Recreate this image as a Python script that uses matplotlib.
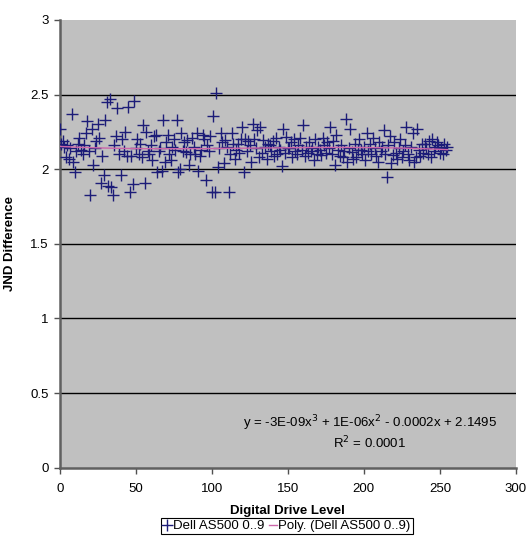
import numpy as np
import matplotlib
matplotlib.use("Agg")
import matplotlib.pyplot as plt
from matplotlib.lines import Line2D

plt.rcParams['font.family'] = ['Liberation Sans', 'DejaVu Sans']

# Data: JND difference per digital drive level
drive_levels = list(range(0, 256))
jnd_diff = [
    2.27, 2.17, 2.19, 2.15, 2.08, 2.16, 2.07, 2.14, 2.37, 2.05, 1.98, 2.12, 2.17, 2.21, 2.13, 2.10,
    2.16, 2.24, 2.32, 2.12, 1.83, 2.27, 2.03, 2.14, 2.19, 2.30, 2.21, 1.91, 2.09, 1.96, 2.33, 2.45,
    1.89, 2.47, 1.88, 1.83, 2.16, 2.22, 2.41, 2.10, 1.96, 2.20, 2.12, 2.25, 2.09, 2.42, 1.85, 2.09,
    1.90, 2.46, 2.14, 2.20, 2.10, 2.17, 2.08, 2.295, 1.91, 2.25, 2.12, 2.105, 2.16, 2.06, 2.22, 2.23,
    1.98, 2.12, 2.14, 1.99, 2.33, 2.045, 2.18, 2.23, 2.10, 2.06, 2.15, 2.205, 2.13, 2.33, 1.98, 2.00,
    2.245, 2.12, 2.18, 2.115, 2.195, 2.03, 2.10, 2.21, 2.15, 2.105, 2.24, 1.99, 2.09, 2.13, 2.23, 2.20,
    1.93, 2.16, 2.12, 2.22, 1.85, 2.355, 1.85, 2.51, 2.015, 2.14, 2.24, 2.18, 2.04, 2.195, 2.15, 1.85,
    2.10, 2.245, 2.17, 2.065, 2.13, 2.17, 2.11, 2.20, 2.28, 1.98, 2.205, 2.12, 2.19, 2.16, 2.045, 2.30,
    2.20, 2.14, 2.26, 2.08, 2.28, 2.11, 2.195, 2.15, 2.065, 2.17, 2.16, 2.12, 2.19, 2.09, 2.21, 2.105,
    2.15, 2.13, 2.02, 2.27, 2.11, 2.215, 2.14, 2.14, 2.18, 2.08, 2.205, 2.12, 2.10, 2.16, 2.21, 2.13,
    2.295, 2.09, 2.15, 2.11, 2.18, 2.12, 2.14, 2.06, 2.20, 2.10, 2.15, 2.13, 2.095, 2.21, 2.16, 2.11,
    2.18, 2.14, 2.28, 2.10, 2.19, 2.03, 2.23, 2.13, 2.09, 2.165, 2.08, 2.12, 2.335, 2.05, 2.14, 2.27,
    2.115, 2.07, 2.17, 2.08, 2.13, 2.20, 2.13, 2.10, 2.15, 2.06, 2.24, 2.12, 2.17, 2.105, 2.21, 2.14,
    2.09, 2.045, 2.18, 2.12, 2.15, 2.26, 2.10, 1.95, 2.16, 2.22, 2.04, 2.095, 2.18, 2.11, 2.07, 2.14,
    2.20, 2.08, 2.12, 2.16, 2.285, 2.10, 2.06, 2.15, 2.245, 2.05, 2.08, 2.27, 2.13, 2.09, 2.17, 2.11,
    2.17, 2.14, 2.10, 2.19, 2.08, 2.205, 2.12, 2.15, 2.18, 2.16, 2.11, 2.14, 2.105, 2.17, 2.13, 2.15,
]
series_name = "Dell AS500 0..9"
trend_name = "Poly. (Dell AS500 0..9)"
equation_text = "y = -3E-09x$^3$ + 1E-06x$^2$ - 0.0002x + 2.1495"
r2_text = "R$^2$ = 0.0001"
x_ticks = [0, 50, 100, 150, 200, 250, 300]
y_ticks = [0, 0.5, 1, 1.5, 2, 2.5, 3]
y_tick_labels = ["0", "0.5", "1", "1.5", "2", "2.5", "3"]

x = np.array(drive_levels, dtype=float)
y = np.array(jnd_diff, dtype=float)
coef = np.polyfit(x, y, 3)
xf = np.linspace(x.min(), x.max(), 300)
yf = np.polyval(coef, xf)

fig = plt.figure(figsize=(5.27, 5.36), dpi=100)
ax = fig.add_axes([0.1133, 0.1276, 0.8657, 0.8351])
ax.set_facecolor('#C0C0C0')

for yv in y_ticks[1:-1]:
    ax.axhline(yv, color='black', lw=1.0, zorder=1)

marker_color = '#1c1c78'
trend_color = '#cc66aa'
ax.plot(x, y, linestyle='none', marker='+', markersize=8.5, markeredgewidth=1.0,
        color=marker_color, zorder=3)
ax.plot(xf, yf, color=trend_color, lw=1.0, zorder=4)

ax.set_xlim(0, 300)
ax.set_ylim(0, 3)
ax.set_xticks(x_ticks)
ax.set_yticks(y_ticks)
ax.set_yticklabels(y_tick_labels)
ax.tick_params(axis='both', direction='out', length=4, width=1, color='#505050',
               labelsize=9.5)
ax.tick_params(axis='x', pad=7)
ax.tick_params(axis='y', pad=4)

for s in ['top', 'right']:
    ax.spines[s].set_visible(False)
for s in ['left', 'bottom']:
    ax.spines[s].set_color('#606060')
    ax.spines[s].set_linewidth(1.8)

ax.set_xlabel("Digital Drive Level", fontsize=9.5, fontweight='bold', labelpad=7)
ax.set_ylabel("JND Difference", fontsize=9.5, fontweight='bold', labelpad=10)

ax.text(204, 2.0 - (423 - 169) / 149.2, equation_text, ha='center', va='center', fontsize=9.5)
ax.text(204, 2.0 - (443 - 169) / 149.2, r2_text, ha='center', va='center', fontsize=9.5)

handles = [
    Line2D([], [], linestyle='none', marker='+', markersize=8.5, markeredgewidth=1.0, color=marker_color),
    Line2D([], [], color=trend_color, lw=1.0),
]
leg = fig.legend(handles, [series_name, trend_name], ncol=2, loc='center',
                 bbox_to_anchor=(287 / 527, 1 - 526 / 536), fontsize=9.5,
                 frameon=True, fancybox=False, edgecolor='black', framealpha=1,
                 handlelength=0.6, handletextpad=0.1, columnspacing=0.4,
                 borderpad=0.15, borderaxespad=0)
leg.get_frame().set_linewidth(0.8)

fig.savefig("out.png", dpi=100, facecolor='white')
